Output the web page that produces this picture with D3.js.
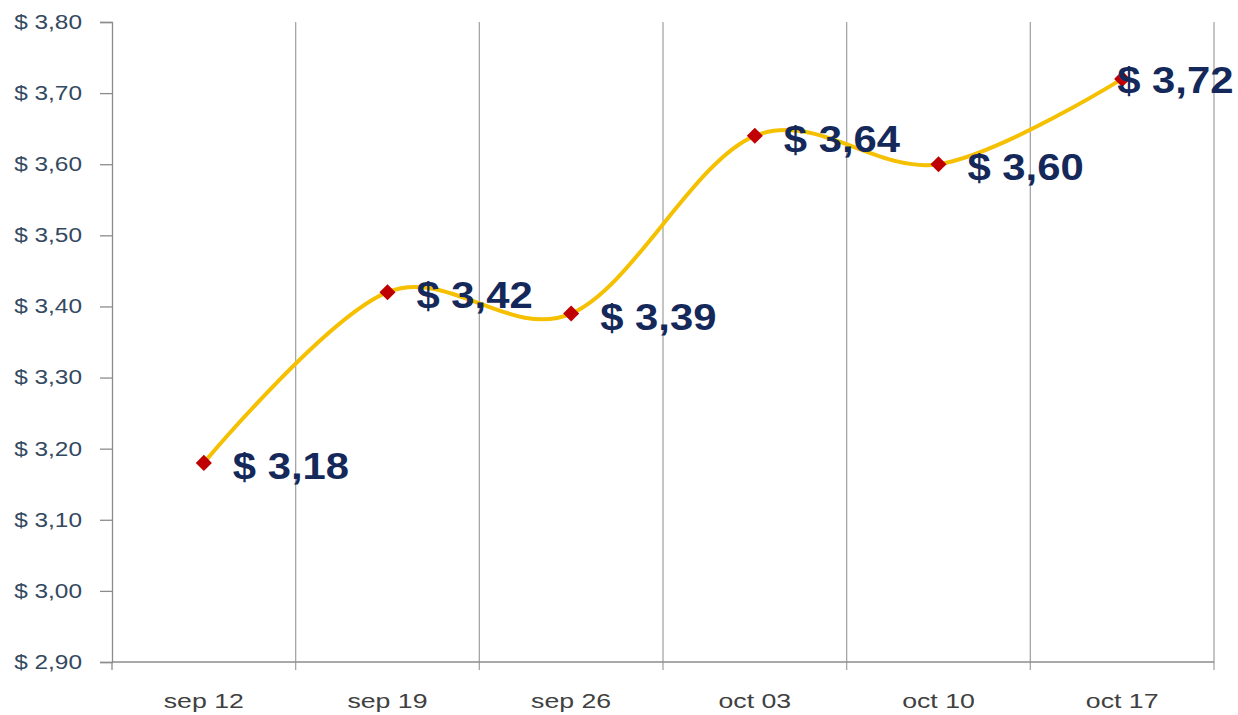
<!DOCTYPE html>
<html>
<head>
<meta charset="utf-8">
<script src="https://cdn.jsdelivr.net/npm/d3@7"></script>
<style>
  body { margin: 0; background: #fff; }
  text { font-family: "Liberation Sans", Arial, sans-serif; }
</style>
</head>
<body>
<div id="chart"></div>
<script>
// weekly price line chart, smoothed, with big value labels
let weeks = ["sep 12", "sep 19", "sep 26", "oct 03", "oct 10", "oct 17"];
let prices = [3.18, 3.42, 3.39, 3.64, 3.60, 3.72];
let yTicks = [2.9, 3.0, 3.1, 3.2, 3.3, 3.4, 3.5, 3.6, 3.7, 3.8];

let margins = {top: 22, right: 24, left: 112, bottom: 53};
let width = 1238 - margins.left - margins.right;
let height = 715 - margins.top - margins.bottom;

let svg = d3.select("#chart")
    .append("svg")
    .attr("width", 1238)
    .attr("height", 715)
    .append("g")
    .attr("transform", "translate(" + margins.left + "," + margins.top + ")");

let x = d3.scaleBand()
    .domain(weeks)
    .range([0, width]);

let y = d3.scaleLinear()
    .domain([2.9, 3.8])
    .range([height, 0]);

let fmt = function(v){ return "$ " + v.toFixed(2).replace(".", ","); };

// the original text is a bit wider than the font, stretch it
function stretch(sel, k) {
    sel.each(function(){
        let w = this.getComputedTextLength();
        d3.select(this).attr("textLength", w * k).attr("lengthAdjust", "spacingAndGlyphs");
    });
}

// vertical gridlines at band edges
let edges = weeks.map(function(w){ return x(w) + x.bandwidth(); });
svg.selectAll(".grid")
    .data(edges)
    .enter()
    .append("line")
    .attr("x1", function(d){ return d; })
    .attr("x2", function(d){ return d; })
    .attr("y1", 0)
    .attr("y2", height + 8)
    .attr("stroke", "#a6a6a6")
    .attr("stroke-width", 1.3);

// y axis
let yAxis = svg.append("g")
    .call(d3.axisLeft(y).tickValues(yTicks).tickFormat(fmt).tickSize(12).tickPadding(18));
yAxis.select(".domain").attr("stroke", "#8c8c8c").attr("stroke-width", 1.3);
yAxis.selectAll(".tick line").attr("stroke", "#8c8c8c").attr("stroke-width", 1.3);
yAxis.selectAll("text")
    .style("font-size", "20px")
    .style("font-family", "'Liberation Sans', Arial, sans-serif")
    .attr("fill", "#34495f")
    .call(stretch, 1.22);

// x axis (baseline + labels)
svg.append("line")
    .attr("x1", 0).attr("x2", width)
    .attr("y1", height).attr("y2", height)
    .attr("stroke", "#8c8c8c").attr("stroke-width", 1.3);
svg.append("line")
    .attr("x1", 0).attr("x2", 0)
    .attr("y1", height).attr("y2", height + 8)
    .attr("stroke", "#8c8c8c").attr("stroke-width", 1.3);
svg.selectAll(".xlab")
    .data(weeks)
    .enter()
    .append("text")
    .attr("x", function(d){ return x(d) + x.bandwidth() / 2; })
    .attr("y", height + 46)
    .attr("text-anchor", "middle")
    .style("font-size", "21px")
    .attr("fill", "#404040")
    .text(function(d){ return d; })
    .call(stretch, 1.27);

// smoothed line
let line = d3.line()
    .x(function(d, i){ return x(weeks[i]) + x.bandwidth() / 2; })
    .y(function(d){ return y(d); })
    .curve(d3.curveCardinal.tension(0));
svg.append("path")
    .datum(prices)
    .attr("d", line)
    .attr("fill", "none")
    .attr("stroke", "#f5c000")
    .attr("stroke-width", 4);

// diamond markers
svg.selectAll(".marker")
    .data(prices)
    .enter()
    .append("path")
    .attr("d", d3.symbol().type(d3.symbolDiamond2).size(165))
    .attr("transform", function(d, i){
        return "translate(" + (x(weeks[i]) + x.bandwidth() / 2) + "," + y(d) + ")";
    })
    .attr("fill", "#c00000");

// value labels
svg.selectAll(".vlab")
    .data(prices)
    .enter()
    .append("text")
    .attr("x", function(d, i){
        let cx = x(weeks[i]) + x.bandwidth() / 2;
        return i === prices.length - 1 ? cx - 5 : cx + 29;
    })
    .attr("y", function(d, i){ return y(d) + (i === prices.length - 1 ? 14 : 16); })
    .style("font-size", "37px")
    .style("font-weight", "bold")
    .attr("fill", "#14285a")
    .text(function(d){ return fmt(d); })
    .call(stretch, 1.13);
</script>
</body>
</html>
